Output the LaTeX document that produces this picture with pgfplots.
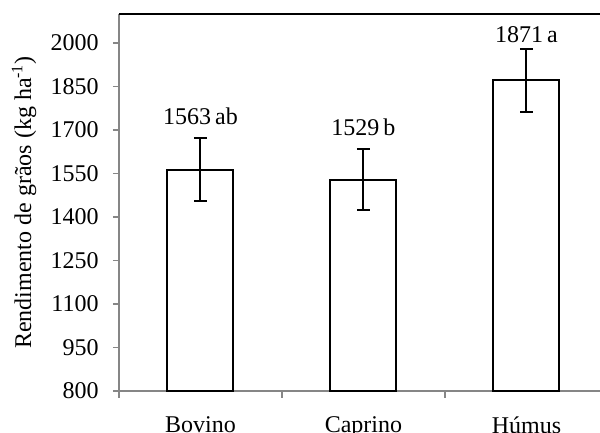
\documentclass[border=0pt]{standalone}
\usepackage{fontspec}
\setmainfont{Liberation Serif}
\usepackage{pgfplots}
\pgfplotsset{compat=1.18}

\definecolor{axisgray}{HTML}{868686}

\begin{document}
\fontsize{12}{14}\selectfont
\begin{tikzpicture}
\begin{axis}[
    name=ax,
    at={(0,0)}, anchor=south west,
    scale only axis,
    width=244.5pt, height=188.5pt,
    ybar,
    bar width=33pt,
    xmin=-0.5, xmax=2.5,
    ymin=800, ymax=2100,
    axis lines=left,
    axis line style={axisgray, line width=0.8pt, -},
    every tick label/.append style={font=\fontsize{12}{14}\selectfont},
    label style={font=\fontsize{12}{14}\selectfont},
    xtick={0,1,2},
    xticklabels={Bovino, Caprino, Húmus},
    major x tick style={draw=none},
    minor xtick={-0.5,0.5,1.5,2.5},
    minor x tick style={axisgray, line width=0.8pt},
    minor tick length=3.5pt,
    ytick={800,950,...,2000},
    y tick style={axisgray, line width=0.8pt},
    major tick length=3pt,
    tick align=outside,
    xticklabel style={yshift=-5.5pt},
    yticklabel style={xshift=-3pt},
    /pgf/number format/assume math mode=true,
    /pgf/number format/1000 sep={},
    ylabel={Rendimento de grãos (kg ha\textsuperscript{-1})},
    ylabel style={yshift=-1pt},
    clip=false,
]
\addplot[fill=white, draw=black, line width=1pt, bar shift=0pt,
    error bars/.cd, y dir=both, y explicit,
    error bar style={black, line width=1pt},
    error mark options={rotate=90, mark size=3.25pt, line width=1pt, black}]
    coordinates {
    (0,1563) +- (0,108)
    (1,1529) +- (0,105)
    (2,1871) +- (0,108)
    };
\addplot[draw=none, fill=none, bar shift=0pt, bar width=0pt,
    nodes near coords, point meta=explicit symbolic,
    every node near coord/.append style={anchor=base, black, inner sep=0pt,
        font=\fontsize{12}{14}\selectfont}]
    table[meta=label] {
    x y label
    0 1719 {1563\,ab}
    1 1681 {1529\,b}
    2 2001 {1871\,a}
    };
\draw[black, line width=0.9pt] (rel axis cs:0,1) -- (rel axis cs:1,1);
\end{axis}
\pgfresetboundingbox
\path[use as bounding box] (-59.5pt,-21pt) rectangle (240.5pt,195.5pt);
\end{tikzpicture}
\end{document}
